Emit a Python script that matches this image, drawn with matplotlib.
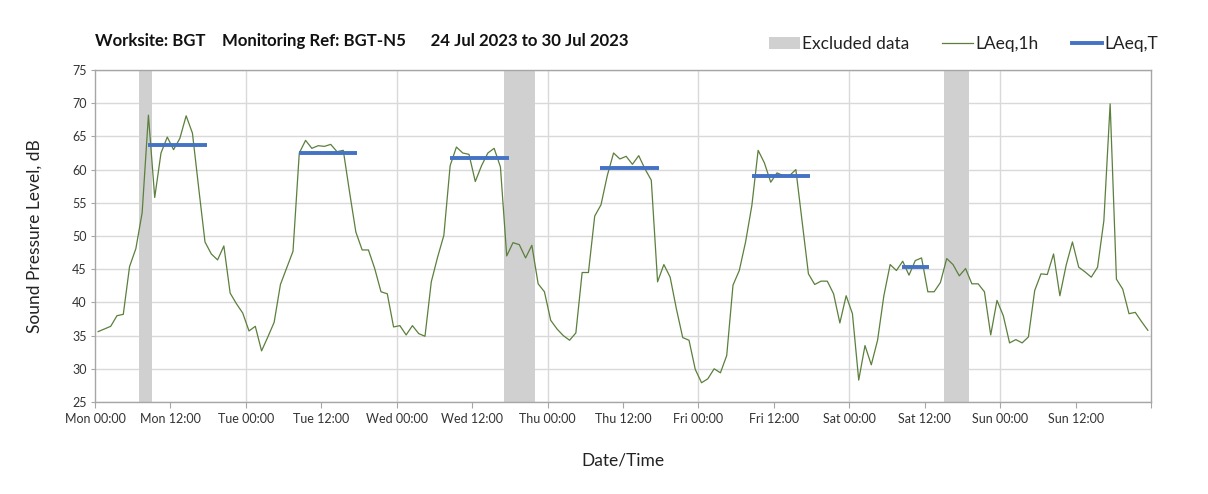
"""Hourly LAeq chart for worksite BGT, monitoring point BGT-N5."""

import matplotlib

matplotlib.use("Agg")

import matplotlib.pyplot as plt
import numpy as np
from matplotlib.lines import Line2D
from matplotlib.patches import Patch

plt.rcParams["font.family"] = ["Lato", "DejaVu Sans"]

# hourly LAeq,1h values (dB), Mon 24 Jul 00:00 -> Sun 30 Jul 23:00
laeq_1h = [
    35.6, 36.0, 36.4, 38.0, 38.2, 45.4, 48.1, 53.5, 68.2, 55.8,
    62.5, 64.9, 63.0, 64.7, 68.1, 65.5, 57.2, 49.1, 47.3, 46.4,
    48.5, 41.4, 39.8, 38.4, 35.7, 36.4, 32.7, 34.8, 37.0, 42.7,
    45.2, 47.7, 62.5, 64.4, 63.2, 63.6, 63.5, 63.8, 62.7, 62.9,
    56.6, 50.6, 47.9, 47.9, 45.1, 41.6, 41.3, 36.3, 36.5, 35.1,
    36.5, 35.3, 34.9, 43.1, 46.8, 50.1, 60.6, 63.4, 62.5, 62.3,
    58.2, 60.6, 62.5, 63.2, 60.4, 47.0, 49.0, 48.7, 46.7, 48.6,
    42.8, 41.6, 37.3, 36.0, 35.0, 34.3, 35.4, 44.5, 44.5, 53.0,
    54.7, 59.1, 62.5, 61.6, 62.0, 60.8, 62.1, 60.1, 58.4, 43.1,
    45.7, 43.8, 39.0, 34.7, 34.3, 29.9, 27.9, 28.5, 30.0, 29.4,
    32.0, 42.6, 44.8, 49.1, 54.6, 62.9, 61.0, 58.1, 59.5, 59.1,
    59.1, 60.0, 52.1, 44.3, 42.7, 43.2, 43.2, 41.3, 36.9, 41.0,
    38.3, 28.3, 33.5, 30.6, 34.3, 41.0, 45.7, 44.8, 46.2, 44.1,
    46.3, 46.7, 41.6, 41.6, 43.0, 46.6, 45.7, 44.0, 45.1, 42.8,
    42.8, 41.6, 35.1, 40.3, 38.0, 33.9, 34.4, 33.9, 34.8, 41.8,
    44.3, 44.2, 47.3, 41.0, 45.6, 49.1, 45.3, 44.6, 43.8, 45.3,
    52.3, 69.9, 43.5, 42.0, 38.3, 38.5, 37.1, 35.8,
]

# LAeq,T periods: start hour, end hour, level (dB)
period_start = [8.4, 32.4, 56.5, 80.4, 104.5, 128.4]
period_end = [17.8, 41.7, 65.8, 89.8, 113.8, 132.7]
period_level = [63.7, 62.5, 61.7, 60.2, 59.0, 45.4]

# excluded data windows (hours from Mon 00:00)
excluded_start = [7, 65, 135]
excluded_end = [9, 70, 139]

tick_labels = [
    "Mon 00:00", "Mon 12:00", "Tue 00:00", "Tue 12:00", "Wed 00:00",
    "Wed 12:00", "Thu 00:00", "Thu 12:00", "Fri 00:00", "Fri 12:00",
    "Sat 00:00", "Sat 12:00", "Sun 00:00", "Sun 12:00", "",
]

GREEN = "#5b7f3c"
BLUE = "#4472c4"
GREY_BAND = "#d0d0d0"
GRID = "#d9d9d9"
AXIS = "#a6a6a6"


def main() -> None:
    fig = plt.figure(figsize=(12.08, 4.94), dpi=100)
    ax = fig.add_axes([95 / 1208, 1 - 402 / 494, (1151 - 95) / 1208, (402 - 70) / 494])

    hours = np.arange(len(laeq_1h)) + 0.5
    for start, end in zip(excluded_start, excluded_end):
        ax.axvspan(start, end, color=GREY_BAND, lw=0, zorder=1)
    for day in range(24, 168, 24):
        ax.axvline(day, color=GRID, lw=1, zorder=0.5)
    ax.plot(hours, laeq_1h, color=GREEN, lw=0.9, zorder=3)
    for start, end, level in zip(period_start, period_end, period_level):
        ax.plot([start, end], [level, level], color=BLUE, lw=2.8, solid_capstyle="butt", zorder=4)

    ax.set_xlim(0, 168)
    ax.set_ylim(25, 75)
    ax.set_xticks(np.arange(0, 169, 12))
    ax.set_xticklabels(tick_labels)
    ax.set_yticks(np.arange(25, 76, 5))
    ax.grid(axis="y", color=GRID, lw=1, zorder=0.5)
    ax.set_axisbelow(True)
    ax.tick_params(axis="x", length=4, color=AXIS, labelsize=9, labelcolor="#333333", pad=4)
    ax.tick_params(axis="y", length=3, color=AXIS, labelsize=9, labelcolor="#333333", pad=3)
    for spine in ax.spines.values():
        spine.set_color(AXIS)
        spine.set_linewidth(1)

    ax.set_ylabel("Sound Pressure Level, dB", fontsize=12.5, color="#222222", labelpad=21)
    ax.set_xlabel("Date/Time", fontsize=12.5, color="#222222", labelpad=20)

    fig.text(95 / 1208, 1 - 41 / 494,
             "Worksite: BGT    Monitoring Ref: BGT-N5      24 Jul 2023 to 30 Jul 2023",
             fontsize=12.1, fontweight="bold", va="center", ha="left", color="#111111")

    handles = [
        Patch(facecolor=GREY_BAND, edgecolor="none"),
        Line2D([], [], color=GREEN, lw=0.9),
        Line2D([], [], color=BLUE, lw=2.8),
    ]
    fig.legend(handles, ["Excluded data", "LAeq,1h", "LAeq,T"],
               loc="center right", bbox_to_anchor=(1174 / 1208, 1 - 44 / 494),
               ncol=3, frameon=False, fontsize=12.5, handlelength=1.75,
               handletextpad=0.15, columnspacing=1.9, labelcolor="#222222")

    fig.savefig("out.png", dpi=100)
    plt.close(fig)


if __name__ == "__main__":
    main()
